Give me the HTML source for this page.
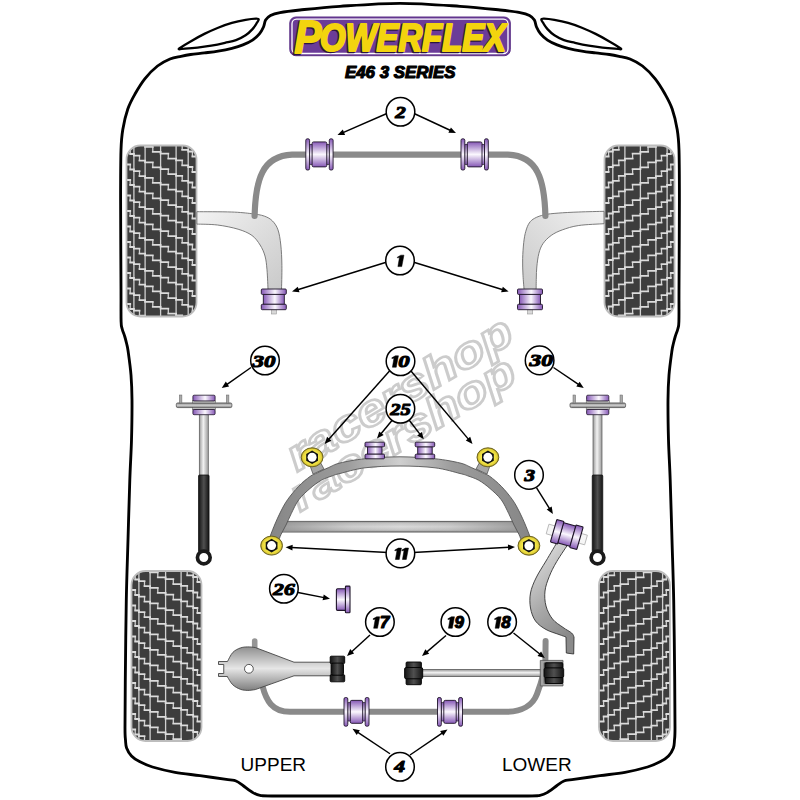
<!DOCTYPE html>
<html><head><meta charset="utf-8"><style>
html,body{margin:0;padding:0;background:#fff;width:800px;height:800px;overflow:hidden}
svg{display:block}
</style></head><body>
<svg width="800" height="800" viewBox="0 0 800 800">
<defs>
<linearGradient id="pv" x1="0" y1="0" x2="0" y2="1"><stop offset="0" stop-color="#8658b6"/><stop offset="0.5" stop-color="#fbf8fe"/><stop offset="1" stop-color="#8658b6"/></linearGradient>
<linearGradient id="ph" x1="0" y1="0" x2="1" y2="0"><stop offset="0" stop-color="#8658b6"/><stop offset="0.55" stop-color="#fbf8fe"/><stop offset="1" stop-color="#8658b6"/></linearGradient>
<linearGradient id="gArm" x1="0" y1="0" x2="0" y2="1"><stop offset="0" stop-color="#efefef"/><stop offset="1" stop-color="#c4c4c4"/></linearGradient>
<linearGradient id="gArmH" x1="0" y1="0" x2="1" y2="0"><stop offset="0" stop-color="#c8c8c8"/><stop offset="0.5" stop-color="#eeeeee"/><stop offset="1" stop-color="#c8c8c8"/></linearGradient>
<linearGradient id="gRod" x1="0" y1="0" x2="1" y2="0"><stop offset="0" stop-color="#9a9a9a"/><stop offset="0.45" stop-color="#f2f2f2"/><stop offset="1" stop-color="#9a9a9a"/></linearGradient>
<linearGradient id="gRodV" x1="0" y1="0" x2="0" y2="1"><stop offset="0" stop-color="#9a9a9a"/><stop offset="0.45" stop-color="#f2f2f2"/><stop offset="1" stop-color="#9a9a9a"/></linearGradient>
<linearGradient id="gBlk" x1="0" y1="0" x2="1" y2="0"><stop offset="0" stop-color="#141414"/><stop offset="0.5" stop-color="#505050"/><stop offset="1" stop-color="#141414"/></linearGradient>
<linearGradient id="gArmL" x1="0" y1="0" x2="1" y2="1"><stop offset="0" stop-color="#f2f2f2"/><stop offset="1" stop-color="#c9c9c9"/></linearGradient>
<linearGradient id="gPlate" x1="0" y1="0" x2="0" y2="1"><stop offset="0" stop-color="#7c7c7c"/><stop offset="0.5" stop-color="#d0d0d0"/><stop offset="1" stop-color="#7c7c7c"/></linearGradient>
<linearGradient id="gSubR" x1="0" y1="0" x2="1" y2="0"><stop offset="0" stop-color="#868686"/><stop offset="0.3" stop-color="#9c9c9c"/><stop offset="0.5" stop-color="#cfcfcf"/><stop offset="0.7" stop-color="#9c9c9c"/><stop offset="1" stop-color="#868686"/></linearGradient>
<linearGradient id="gCross" x1="0" y1="0" x2="0" y2="1"><stop offset="0" stop-color="#9a9a9a"/><stop offset="0.2" stop-color="#c6c6c6"/><stop offset="0.5" stop-color="#dadada"/><stop offset="0.8" stop-color="#c6c6c6"/><stop offset="1" stop-color="#9a9a9a"/></linearGradient>
<linearGradient id="gA3" x1="0" y1="0" x2="0.35" y2="1"><stop offset="0" stop-color="#f0f0f0"/><stop offset="0.3" stop-color="#cacaca"/><stop offset="0.65" stop-color="#a6a6a6"/><stop offset="1" stop-color="#8a8a8a"/></linearGradient>
<linearGradient id="gA17" gradientUnits="userSpaceOnUse" x1="0" y1="646" x2="0" y2="691"><stop offset="0" stop-color="#8c8c8c"/><stop offset="0.5" stop-color="#e6e6e6"/><stop offset="1" stop-color="#7c7c7c"/></linearGradient>
<linearGradient id="gBlkV" x1="0" y1="0" x2="0" y2="1"><stop offset="0" stop-color="#111"/><stop offset="0.5" stop-color="#4a4a4a"/><stop offset="1" stop-color="#111"/></linearGradient>
<radialGradient id="gNut" cx="0.5" cy="0.5" r="0.5"><stop offset="0.6" stop-color="#f4e84a"/><stop offset="0.85" stop-color="#e6d43a"/><stop offset="1" stop-color="#a89820"/></radialGradient>
<linearGradient id="gArmR" x1="1" y1="0" x2="0" y2="1"><stop offset="0" stop-color="#f2f2f2"/><stop offset="1" stop-color="#c9c9c9"/></linearGradient>
<linearGradient id="gCrossH" x1="0" y1="0" x2="1" y2="0"><stop offset="0" stop-color="#8a8a8a" stop-opacity="0.75"/><stop offset="0.3" stop-color="#8a8a8a" stop-opacity="0.15"/><stop offset="0.5" stop-color="#8a8a8a" stop-opacity="0"/><stop offset="0.7" stop-color="#8a8a8a" stop-opacity="0.15"/><stop offset="1" stop-color="#8a8a8a" stop-opacity="0.75"/></linearGradient>
<linearGradient id="gSub" x1="0" y1="0" x2="0" y2="1"><stop offset="0" stop-color="#c0c0c0"/><stop offset="1" stop-color="#8e8e8e"/></linearGradient>
</defs>

<path d="M400.00 3.30C380.00 3.30 356.67 5.18 340.00 6.30C323.33 7.42 310.00 8.95 300.00 10.00C290.00 11.05 284.92 11.68 280.00 12.60C275.08 13.52 272.90 14.25 270.50 15.50C268.10 16.75 266.77 18.18 265.60 20.10C264.43 22.02 264.53 24.70 263.50 27.00C262.47 29.30 261.23 31.72 259.40 33.90C257.57 36.08 255.25 38.27 252.50 40.10C249.75 41.93 246.33 43.53 242.90 44.90C239.47 46.27 236.03 47.27 231.90 48.30C227.77 49.33 222.68 50.33 218.10 51.10C213.52 51.87 208.98 52.33 204.40 52.90C199.82 53.47 194.50 53.93 190.60 54.50C186.70 55.07 184.43 55.55 181.00 56.30C177.57 57.05 173.92 57.38 170.00 59.00C166.08 60.62 161.67 62.73 157.50 66.00C153.33 69.27 148.75 73.93 145.00 78.60C141.25 83.27 137.87 88.93 135.00 94.00C132.13 99.07 129.83 103.08 127.80 109.00C125.77 114.92 123.93 122.67 122.80 129.50C121.67 136.33 121.37 138.25 121.00 150.00C120.63 161.75 120.60 176.67 120.60 200.00C120.60 223.33 120.92 269.75 121.00 290.00C121.08 310.25 120.90 315.00 121.10 321.50C121.30 328.00 121.59 326.50 122.20 329.00C122.81 331.50 124.02 334.08 124.75 336.50C125.48 338.92 126.04 341.08 126.60 343.50C127.16 345.92 127.37 345.75 128.10 351.00C128.83 356.25 130.35 366.83 131.00 375.00C131.65 383.17 131.92 389.17 132.00 400.00C132.08 410.83 131.87 426.67 131.50 440.00C131.13 453.33 130.38 463.33 129.80 480.00C129.22 496.67 128.58 520.00 128.00 540.00C127.42 560.00 126.75 576.67 126.30 600.00C125.85 623.33 125.52 658.67 125.30 680.00C125.08 701.33 124.97 718.00 125.00 728.00C125.03 738.00 125.23 736.67 125.50 740.00C125.77 743.33 125.60 745.33 126.60 748.00C127.60 750.67 129.35 753.73 131.50 756.00C133.65 758.27 136.00 759.77 139.50 761.60C143.00 763.43 146.58 765.22 152.50 767.00C158.42 768.78 167.08 770.85 175.00 772.30C182.92 773.75 191.17 774.48 200.00 775.70C208.83 776.92 222.00 778.72 228.00 779.60C234.00 780.48 233.50 780.02 236.00 781.00C238.50 781.98 240.46 783.73 243.00 785.50C245.54 787.27 248.42 789.97 251.25 791.60C254.08 793.23 255.21 794.57 260.00 795.30C264.79 796.03 256.67 795.88 280.00 796.00C303.33 796.12 360.00 796.00 400.00 796.00C440.00 796.00 496.67 796.12 520.00 796.00C543.33 795.88 535.21 796.03 540.00 795.30C544.79 794.57 545.92 793.23 548.75 791.60C551.58 789.97 554.46 787.27 557.00 785.50C559.54 783.73 561.50 781.98 564.00 781.00C566.50 780.02 566.00 780.48 572.00 779.60C578.00 778.72 591.17 776.92 600.00 775.70C608.83 774.48 617.08 773.75 625.00 772.30C632.92 770.85 641.58 768.78 647.50 767.00C653.42 765.22 657.00 763.43 660.50 761.60C664.00 759.77 666.35 758.27 668.50 756.00C670.65 753.73 672.40 750.67 673.40 748.00C674.40 745.33 674.23 743.33 674.50 740.00C674.77 736.67 674.97 738.00 675.00 728.00C675.03 718.00 674.92 701.33 674.70 680.00C674.48 658.67 674.15 623.33 673.70 600.00C673.25 576.67 672.58 560.00 672.00 540.00C671.42 520.00 670.78 496.67 670.20 480.00C669.62 463.33 668.87 453.33 668.50 440.00C668.13 426.67 667.92 410.83 668.00 400.00C668.08 389.17 668.35 383.17 669.00 375.00C669.65 366.83 671.17 356.25 671.90 351.00C672.63 345.75 672.84 345.92 673.40 343.50C673.96 341.08 674.52 338.92 675.25 336.50C675.98 334.08 677.19 331.50 677.80 329.00C678.41 326.50 678.70 328.00 678.90 321.50C679.10 315.00 678.92 310.25 679.00 290.00C679.08 269.75 679.40 223.33 679.40 200.00C679.40 176.67 679.37 161.75 679.00 150.00C678.63 138.25 678.33 136.33 677.20 129.50C676.07 122.67 674.23 114.92 672.20 109.00C670.17 103.08 667.87 99.07 665.00 94.00C662.13 88.93 658.75 83.27 655.00 78.60C651.25 73.93 646.67 69.27 642.50 66.00C638.33 62.73 633.92 60.62 630.00 59.00C626.08 57.38 622.43 57.05 619.00 56.30C615.57 55.55 613.30 55.07 609.40 54.50C605.50 53.93 600.18 53.47 595.60 52.90C591.02 52.33 586.48 51.87 581.90 51.10C577.32 50.33 572.23 49.33 568.10 48.30C563.97 47.27 560.53 46.27 557.10 44.90C553.67 43.53 550.25 41.93 547.50 40.10C544.75 38.27 542.43 36.08 540.60 33.90C538.77 31.72 537.53 29.30 536.50 27.00C535.47 24.70 535.57 22.02 534.40 20.10C533.23 18.18 531.90 16.75 529.50 15.50C527.10 14.25 524.92 13.52 520.00 12.60C515.08 11.68 510.00 11.05 500.00 10.00C490.00 8.95 476.67 7.42 460.00 6.30C443.33 5.18 420.00 3.30 400.00 3.30Z" fill="none" stroke="#000" stroke-width="2.85"/>
<path d="M178.90 48.70C179.83 47.50 186.35 43.87 190.60 41.40C194.85 38.93 199.82 36.18 204.40 33.90C208.98 31.62 213.52 29.53 218.10 27.70C222.68 25.87 227.32 24.20 231.90 22.90C236.48 21.60 241.58 20.60 245.60 19.90C249.62 19.20 253.82 18.77 256.00 18.70C258.18 18.63 258.58 18.75 258.70 19.50C258.82 20.25 257.73 21.60 256.70 23.20C255.67 24.80 254.35 27.08 252.50 29.10C250.65 31.12 248.35 33.47 245.60 35.30C242.85 37.13 239.43 38.85 236.00 40.10C232.57 41.35 229.12 41.88 225.00 42.80C220.88 43.72 215.88 44.80 211.30 45.60C206.72 46.40 201.88 47.10 197.50 47.60C193.12 48.10 188.10 48.42 185.00 48.60C181.90 48.78 177.97 49.90 178.90 48.70Z" fill="none" stroke="#000" stroke-width="2.3" stroke-linejoin="round"/>
<path d="M621.10 48.70C620.17 47.50 613.65 43.87 609.40 41.40C605.15 38.93 600.18 36.18 595.60 33.90C591.02 31.62 586.48 29.53 581.90 27.70C577.32 25.87 572.68 24.20 568.10 22.90C563.52 21.60 558.42 20.60 554.40 19.90C550.38 19.20 546.18 18.77 544.00 18.70C541.82 18.63 541.42 18.75 541.30 19.50C541.18 20.25 542.27 21.60 543.30 23.20C544.33 24.80 545.65 27.08 547.50 29.10C549.35 31.12 551.65 33.47 554.40 35.30C557.15 37.13 560.57 38.85 564.00 40.10C567.43 41.35 570.88 41.88 575.00 42.80C579.12 43.72 584.12 44.80 588.70 45.60C593.28 46.40 598.12 47.10 602.50 47.60C606.88 48.10 611.90 48.42 615.00 48.60C618.10 48.78 622.03 49.90 621.10 48.70Z" fill="none" stroke="#000" stroke-width="2.3" stroke-linejoin="round"/>
<rect x="289.8" y="17" width="220.5" height="38.7" rx="6" fill="#6b3c98" stroke="#5a2f85" stroke-width="1"/>
<rect x="292" y="19.2" width="216" height="34.3" rx="4.5" fill="none" stroke="#fff" stroke-width="1.3"/>
<text x="293.2" y="53.5" font-family="Liberation Sans" font-weight="bold" font-style="italic" font-size="47" fill="#2a1540" stroke="#2a1540" stroke-width="2.6" stroke-linejoin="round" textLength="27" lengthAdjust="spacingAndGlyphs">P</text>
<text x="318.7" y="51.5" font-family="Liberation Sans" font-weight="bold" font-style="italic" font-size="38" fill="#2a1540" stroke="#2a1540" stroke-width="2.6" stroke-linejoin="round" textLength="186" lengthAdjust="spacingAndGlyphs">OWERFLEX</text>
<text x="294.5" y="52.5" font-family="Liberation Sans" font-weight="bold" font-style="italic" font-size="47" fill="#f3d40e" stroke="#f3d40e" stroke-width="2.2" stroke-linejoin="round" textLength="27" lengthAdjust="spacingAndGlyphs">P</text>
<text x="320" y="50.5" font-family="Liberation Sans" font-weight="bold" font-style="italic" font-size="38" fill="#f3d40e" stroke="#f3d40e" stroke-width="2.2" stroke-linejoin="round" textLength="186" lengthAdjust="spacingAndGlyphs">OWERFLEX</text>
<text x="345" y="77.5" font-family="Liberation Sans" font-weight="bold" font-style="italic" font-size="16.5" fill="#000" stroke="#000" stroke-width="1.15" stroke-linejoin="round" textLength="110.5" lengthAdjust="spacingAndGlyphs">E46 3 SERIES</text>
<clipPath id="t1"><rect x="126.5" y="145.5" width="70" height="171" rx="14" ry="14"/></clipPath>
<rect x="126.5" y="145.5" width="70" height="171" rx="14" ry="14" fill="#3d3d3d"/>
<g clip-path="url(#t1)"><path d="M130.2 102.5V107.5M130.2 118.0V123.0M130.2 133.5V138.5M130.2 149.0V154.0M130.2 164.5V169.5M130.2 180.0V185.0M130.2 195.5V200.5M130.2 211.0V216.0M130.2 226.5V231.5M130.2 242.0V247.0M130.2 257.5V262.5M130.2 273.0V278.0M130.2 288.5V293.5M130.2 304.0V309.0M130.2 319.5V324.5M139.5 109.2V114.2M139.5 124.7V129.7M139.5 140.2V145.2M139.5 155.7V160.7M139.5 171.2V176.2M139.5 186.7V191.7M139.5 202.2V207.2M139.5 217.7V222.7M139.5 233.2V238.2M139.5 248.7V253.7M139.5 264.2V269.2M139.5 279.7V284.7M139.5 295.2V300.2M139.5 310.7V315.7M139.5 326.2V331.2M152.8 115.9V120.9M152.8 131.4V136.4M152.8 146.9V151.9M152.8 162.4V167.4M152.8 177.9V182.9M152.8 193.4V198.4M152.8 208.9V213.9M152.8 224.4V229.4M152.8 239.9V244.9M152.8 255.4V260.4M152.8 270.9V275.9M152.8 286.4V291.4M152.8 301.9V306.9M152.8 317.4V322.4M168.3 122.6V127.6M168.3 138.1V143.1M168.3 153.6V158.6M168.3 169.1V174.1M168.3 184.6V189.6M168.3 200.1V205.1M168.3 215.6V220.6M168.3 231.1V236.1M168.3 246.6V251.6M168.3 262.1V267.1M168.3 277.6V282.6M168.3 293.1V298.1M168.3 308.6V313.6M168.3 324.1V329.1M182.2 129.3V134.3M182.2 144.8V149.8M182.2 160.3V165.3M182.2 175.8V180.8M182.2 191.3V196.3M182.2 206.8V211.8M182.2 222.3V227.3M182.2 237.8V242.8M182.2 253.3V258.3M182.2 268.8V273.8M182.2 284.3V289.3M182.2 299.8V304.8M182.2 315.3V320.3M192.4 136.0V141.0M192.4 151.5V156.5M192.4 167.0V172.0M192.4 182.5V187.5M192.4 198.0V203.0M192.4 213.5V218.5M192.4 229.0V234.0M192.4 244.5V249.5M192.4 260.0V265.0M192.4 275.5V280.5M192.4 291.0V296.0M192.4 306.5V311.5M192.4 322.0V327.0M133.9 145.5V316.5M145.1 145.5V316.5M160.6 145.5V316.5M176.1 145.5V316.5M188.2 145.5V316.5" stroke="#d0d0d0" stroke-width="1.3" fill="none"/><path d="M126.5 102.5H130.2M130.2 107.5H133.9M126.5 118.0H130.2M130.2 123.0H133.9M126.5 133.5H130.2M130.2 138.5H133.9M126.5 149.0H130.2M130.2 154.0H133.9M126.5 164.5H130.2M130.2 169.5H133.9M126.5 180.0H130.2M130.2 185.0H133.9M126.5 195.5H130.2M130.2 200.5H133.9M126.5 211.0H130.2M130.2 216.0H133.9M126.5 226.5H130.2M130.2 231.5H133.9M126.5 242.0H130.2M130.2 247.0H133.9M126.5 257.5H130.2M130.2 262.5H133.9M126.5 273.0H130.2M130.2 278.0H133.9M126.5 288.5H130.2M130.2 293.5H133.9M126.5 304.0H130.2M130.2 309.0H133.9M126.5 319.5H130.2M130.2 324.5H133.9M133.9 109.2H139.5M139.5 114.2H145.1M133.9 124.7H139.5M139.5 129.7H145.1M133.9 140.2H139.5M139.5 145.2H145.1M133.9 155.7H139.5M139.5 160.7H145.1M133.9 171.2H139.5M139.5 176.2H145.1M133.9 186.7H139.5M139.5 191.7H145.1M133.9 202.2H139.5M139.5 207.2H145.1M133.9 217.7H139.5M139.5 222.7H145.1M133.9 233.2H139.5M139.5 238.2H145.1M133.9 248.7H139.5M139.5 253.7H145.1M133.9 264.2H139.5M139.5 269.2H145.1M133.9 279.7H139.5M139.5 284.7H145.1M133.9 295.2H139.5M139.5 300.2H145.1M133.9 310.7H139.5M139.5 315.7H145.1M133.9 326.2H139.5M139.5 331.2H145.1M145.1 115.9H152.8M152.8 120.9H160.6M145.1 131.4H152.8M152.8 136.4H160.6M145.1 146.9H152.8M152.8 151.9H160.6M145.1 162.4H152.8M152.8 167.4H160.6M145.1 177.9H152.8M152.8 182.9H160.6M145.1 193.4H152.8M152.8 198.4H160.6M145.1 208.9H152.8M152.8 213.9H160.6M145.1 224.4H152.8M152.8 229.4H160.6M145.1 239.9H152.8M152.8 244.9H160.6M145.1 255.4H152.8M152.8 260.4H160.6M145.1 270.9H152.8M152.8 275.9H160.6M145.1 286.4H152.8M152.8 291.4H160.6M145.1 301.9H152.8M152.8 306.9H160.6M145.1 317.4H152.8M152.8 322.4H160.6M160.6 122.6H168.3M168.3 127.6H176.1M160.6 138.1H168.3M168.3 143.1H176.1M160.6 153.6H168.3M168.3 158.6H176.1M160.6 169.1H168.3M168.3 174.1H176.1M160.6 184.6H168.3M168.3 189.6H176.1M160.6 200.1H168.3M168.3 205.1H176.1M160.6 215.6H168.3M168.3 220.6H176.1M160.6 231.1H168.3M168.3 236.1H176.1M160.6 246.6H168.3M168.3 251.6H176.1M160.6 262.1H168.3M168.3 267.1H176.1M160.6 277.6H168.3M168.3 282.6H176.1M160.6 293.1H168.3M168.3 298.1H176.1M160.6 308.6H168.3M168.3 313.6H176.1M160.6 324.1H168.3M168.3 329.1H176.1M176.1 129.3H182.2M182.2 134.3H188.2M176.1 144.8H182.2M182.2 149.8H188.2M176.1 160.3H182.2M182.2 165.3H188.2M176.1 175.8H182.2M182.2 180.8H188.2M176.1 191.3H182.2M182.2 196.3H188.2M176.1 206.8H182.2M182.2 211.8H188.2M176.1 222.3H182.2M182.2 227.3H188.2M176.1 237.8H182.2M182.2 242.8H188.2M176.1 253.3H182.2M182.2 258.3H188.2M176.1 268.8H182.2M182.2 273.8H188.2M176.1 284.3H182.2M182.2 289.3H188.2M176.1 299.8H182.2M182.2 304.8H188.2M176.1 315.3H182.2M182.2 320.3H188.2M188.2 136.0H192.4M192.4 141.0H196.5M188.2 151.5H192.4M192.4 156.5H196.5M188.2 167.0H192.4M192.4 172.0H196.5M188.2 182.5H192.4M192.4 187.5H196.5M188.2 198.0H192.4M192.4 203.0H196.5M188.2 213.5H192.4M192.4 218.5H196.5M188.2 229.0H192.4M192.4 234.0H196.5M188.2 244.5H192.4M192.4 249.5H196.5M188.2 260.0H192.4M192.4 265.0H196.5M188.2 275.5H192.4M192.4 280.5H196.5M188.2 291.0H192.4M192.4 296.0H196.5M188.2 306.5H192.4M192.4 311.5H196.5M188.2 322.0H192.4M192.4 327.0H196.5" stroke="#dcdcdc" stroke-width="1.8" fill="none" stroke-linecap="square"/></g>
<rect x="126.5" y="145.5" width="70" height="171" rx="14" ry="14" fill="none" stroke="#bdbdbd" stroke-width="1.8"/>
<clipPath id="t2"><rect x="604.5" y="145.5" width="70" height="171" rx="14" ry="14"/></clipPath>
<rect x="604.5" y="145.5" width="70" height="171" rx="14" ry="14" fill="#3d3d3d"/>
<g clip-path="url(#t2)"><g transform="translate(1279.0 0) scale(-1 1)"><path d="M608.2 102.5V107.5M608.2 118.0V123.0M608.2 133.5V138.5M608.2 149.0V154.0M608.2 164.5V169.5M608.2 180.0V185.0M608.2 195.5V200.5M608.2 211.0V216.0M608.2 226.5V231.5M608.2 242.0V247.0M608.2 257.5V262.5M608.2 273.0V278.0M608.2 288.5V293.5M608.2 304.0V309.0M608.2 319.5V324.5M617.5 109.2V114.2M617.5 124.7V129.7M617.5 140.2V145.2M617.5 155.7V160.7M617.5 171.2V176.2M617.5 186.7V191.7M617.5 202.2V207.2M617.5 217.7V222.7M617.5 233.2V238.2M617.5 248.7V253.7M617.5 264.2V269.2M617.5 279.7V284.7M617.5 295.2V300.2M617.5 310.7V315.7M617.5 326.2V331.2M630.9 115.9V120.9M630.9 131.4V136.4M630.9 146.9V151.9M630.9 162.4V167.4M630.9 177.9V182.9M630.9 193.4V198.4M630.9 208.9V213.9M630.9 224.4V229.4M630.9 239.9V244.9M630.9 255.4V260.4M630.9 270.9V275.9M630.9 286.4V291.4M630.9 301.9V306.9M630.9 317.4V322.4M646.4 122.6V127.6M646.4 138.1V143.1M646.4 153.6V158.6M646.4 169.1V174.1M646.4 184.6V189.6M646.4 200.1V205.1M646.4 215.6V220.6M646.4 231.1V236.1M646.4 246.6V251.6M646.4 262.1V267.1M646.4 277.6V282.6M646.4 293.1V298.1M646.4 308.6V313.6M646.4 324.1V329.1M660.2 129.3V134.3M660.2 144.8V149.8M660.2 160.3V165.3M660.2 175.8V180.8M660.2 191.3V196.3M660.2 206.8V211.8M660.2 222.3V227.3M660.2 237.8V242.8M660.2 253.3V258.3M660.2 268.8V273.8M660.2 284.3V289.3M660.2 299.8V304.8M660.2 315.3V320.3M670.4 136.0V141.0M670.4 151.5V156.5M670.4 167.0V172.0M670.4 182.5V187.5M670.4 198.0V203.0M670.4 213.5V218.5M670.4 229.0V234.0M670.4 244.5V249.5M670.4 260.0V265.0M670.4 275.5V280.5M670.4 291.0V296.0M670.4 306.5V311.5M670.4 322.0V327.0M611.9 145.5V316.5M623.1 145.5V316.5M638.6 145.5V316.5M654.1 145.5V316.5M666.2 145.5V316.5" stroke="#d0d0d0" stroke-width="1.3" fill="none"/><path d="M604.5 102.5H608.2M608.2 107.5H611.9M604.5 118.0H608.2M608.2 123.0H611.9M604.5 133.5H608.2M608.2 138.5H611.9M604.5 149.0H608.2M608.2 154.0H611.9M604.5 164.5H608.2M608.2 169.5H611.9M604.5 180.0H608.2M608.2 185.0H611.9M604.5 195.5H608.2M608.2 200.5H611.9M604.5 211.0H608.2M608.2 216.0H611.9M604.5 226.5H608.2M608.2 231.5H611.9M604.5 242.0H608.2M608.2 247.0H611.9M604.5 257.5H608.2M608.2 262.5H611.9M604.5 273.0H608.2M608.2 278.0H611.9M604.5 288.5H608.2M608.2 293.5H611.9M604.5 304.0H608.2M608.2 309.0H611.9M604.5 319.5H608.2M608.2 324.5H611.9M611.9 109.2H617.5M617.5 114.2H623.1M611.9 124.7H617.5M617.5 129.7H623.1M611.9 140.2H617.5M617.5 145.2H623.1M611.9 155.7H617.5M617.5 160.7H623.1M611.9 171.2H617.5M617.5 176.2H623.1M611.9 186.7H617.5M617.5 191.7H623.1M611.9 202.2H617.5M617.5 207.2H623.1M611.9 217.7H617.5M617.5 222.7H623.1M611.9 233.2H617.5M617.5 238.2H623.1M611.9 248.7H617.5M617.5 253.7H623.1M611.9 264.2H617.5M617.5 269.2H623.1M611.9 279.7H617.5M617.5 284.7H623.1M611.9 295.2H617.5M617.5 300.2H623.1M611.9 310.7H617.5M617.5 315.7H623.1M611.9 326.2H617.5M617.5 331.2H623.1M623.1 115.9H630.9M630.9 120.9H638.6M623.1 131.4H630.9M630.9 136.4H638.6M623.1 146.9H630.9M630.9 151.9H638.6M623.1 162.4H630.9M630.9 167.4H638.6M623.1 177.9H630.9M630.9 182.9H638.6M623.1 193.4H630.9M630.9 198.4H638.6M623.1 208.9H630.9M630.9 213.9H638.6M623.1 224.4H630.9M630.9 229.4H638.6M623.1 239.9H630.9M630.9 244.9H638.6M623.1 255.4H630.9M630.9 260.4H638.6M623.1 270.9H630.9M630.9 275.9H638.6M623.1 286.4H630.9M630.9 291.4H638.6M623.1 301.9H630.9M630.9 306.9H638.6M623.1 317.4H630.9M630.9 322.4H638.6M638.6 122.6H646.4M646.4 127.6H654.1M638.6 138.1H646.4M646.4 143.1H654.1M638.6 153.6H646.4M646.4 158.6H654.1M638.6 169.1H646.4M646.4 174.1H654.1M638.6 184.6H646.4M646.4 189.6H654.1M638.6 200.1H646.4M646.4 205.1H654.1M638.6 215.6H646.4M646.4 220.6H654.1M638.6 231.1H646.4M646.4 236.1H654.1M638.6 246.6H646.4M646.4 251.6H654.1M638.6 262.1H646.4M646.4 267.1H654.1M638.6 277.6H646.4M646.4 282.6H654.1M638.6 293.1H646.4M646.4 298.1H654.1M638.6 308.6H646.4M646.4 313.6H654.1M638.6 324.1H646.4M646.4 329.1H654.1M654.1 129.3H660.2M660.2 134.3H666.2M654.1 144.8H660.2M660.2 149.8H666.2M654.1 160.3H660.2M660.2 165.3H666.2M654.1 175.8H660.2M660.2 180.8H666.2M654.1 191.3H660.2M660.2 196.3H666.2M654.1 206.8H660.2M660.2 211.8H666.2M654.1 222.3H660.2M660.2 227.3H666.2M654.1 237.8H660.2M660.2 242.8H666.2M654.1 253.3H660.2M660.2 258.3H666.2M654.1 268.8H660.2M660.2 273.8H666.2M654.1 284.3H660.2M660.2 289.3H666.2M654.1 299.8H660.2M660.2 304.8H666.2M654.1 315.3H660.2M660.2 320.3H666.2M666.2 136.0H670.4M670.4 141.0H674.5M666.2 151.5H670.4M670.4 156.5H674.5M666.2 167.0H670.4M670.4 172.0H674.5M666.2 182.5H670.4M670.4 187.5H674.5M666.2 198.0H670.4M670.4 203.0H674.5M666.2 213.5H670.4M670.4 218.5H674.5M666.2 229.0H670.4M670.4 234.0H674.5M666.2 244.5H670.4M670.4 249.5H674.5M666.2 260.0H670.4M670.4 265.0H674.5M666.2 275.5H670.4M670.4 280.5H674.5M666.2 291.0H670.4M670.4 296.0H674.5M666.2 306.5H670.4M670.4 311.5H674.5M666.2 322.0H670.4M670.4 327.0H674.5" stroke="#dcdcdc" stroke-width="1.8" fill="none" stroke-linecap="square"/></g></g>
<rect x="604.5" y="145.5" width="70" height="171" rx="14" ry="14" fill="none" stroke="#bdbdbd" stroke-width="1.8"/>
<clipPath id="t3"><rect x="131.5" y="571" width="70" height="170" rx="14" ry="14"/></clipPath>
<rect x="131.5" y="571" width="70" height="170" rx="14" ry="14" fill="#3d3d3d"/>
<g clip-path="url(#t3)"><path d="M135.2 528.0V533.0M135.2 543.5V548.5M135.2 559.0V564.0M135.2 574.5V579.5M135.2 590.0V595.0M135.2 605.5V610.5M135.2 621.0V626.0M135.2 636.5V641.5M135.2 652.0V657.0M135.2 667.5V672.5M135.2 683.0V688.0M135.2 698.5V703.5M135.2 714.0V719.0M135.2 729.5V734.5M135.2 745.0V750.0M144.5 534.7V539.7M144.5 550.2V555.2M144.5 565.7V570.7M144.5 581.2V586.2M144.5 596.7V601.7M144.5 612.2V617.2M144.5 627.7V632.7M144.5 643.2V648.2M144.5 658.7V663.7M144.5 674.2V679.2M144.5 689.7V694.7M144.5 705.2V710.2M144.5 720.7V725.7M144.5 736.2V741.2M157.8 541.4V546.4M157.8 556.9V561.9M157.8 572.4V577.4M157.8 587.9V592.9M157.8 603.4V608.4M157.8 618.9V623.9M157.8 634.4V639.4M157.8 649.9V654.9M157.8 665.4V670.4M157.8 680.9V685.9M157.8 696.4V701.4M157.8 711.9V716.9M157.8 727.4V732.4M157.8 742.9V747.9M173.3 548.1V553.1M173.3 563.6V568.6M173.3 579.1V584.1M173.3 594.6V599.6M173.3 610.1V615.1M173.3 625.6V630.6M173.3 641.1V646.1M173.3 656.6V661.6M173.3 672.1V677.1M173.3 687.6V692.6M173.3 703.1V708.1M173.3 718.6V723.6M173.3 734.1V739.1M173.3 749.6V754.6M187.2 554.8V559.8M187.2 570.3V575.3M187.2 585.8V590.8M187.2 601.3V606.3M187.2 616.8V621.8M187.2 632.3V637.3M187.2 647.8V652.8M187.2 663.3V668.3M187.2 678.8V683.8M187.2 694.3V699.3M187.2 709.8V714.8M187.2 725.3V730.3M187.2 740.8V745.8M197.4 561.5V566.5M197.4 577.0V582.0M197.4 592.5V597.5M197.4 608.0V613.0M197.4 623.5V628.5M197.4 639.0V644.0M197.4 654.5V659.5M197.4 670.0V675.0M197.4 685.5V690.5M197.4 701.0V706.0M197.4 716.5V721.5M197.4 732.0V737.0M197.4 747.5V752.5M138.9 571V741M150.1 571V741M165.6 571V741M181.1 571V741M193.2 571V741" stroke="#d0d0d0" stroke-width="1.3" fill="none"/><path d="M131.5 528.0H135.2M135.2 533.0H138.9M131.5 543.5H135.2M135.2 548.5H138.9M131.5 559.0H135.2M135.2 564.0H138.9M131.5 574.5H135.2M135.2 579.5H138.9M131.5 590.0H135.2M135.2 595.0H138.9M131.5 605.5H135.2M135.2 610.5H138.9M131.5 621.0H135.2M135.2 626.0H138.9M131.5 636.5H135.2M135.2 641.5H138.9M131.5 652.0H135.2M135.2 657.0H138.9M131.5 667.5H135.2M135.2 672.5H138.9M131.5 683.0H135.2M135.2 688.0H138.9M131.5 698.5H135.2M135.2 703.5H138.9M131.5 714.0H135.2M135.2 719.0H138.9M131.5 729.5H135.2M135.2 734.5H138.9M131.5 745.0H135.2M135.2 750.0H138.9M138.9 534.7H144.5M144.5 539.7H150.1M138.9 550.2H144.5M144.5 555.2H150.1M138.9 565.7H144.5M144.5 570.7H150.1M138.9 581.2H144.5M144.5 586.2H150.1M138.9 596.7H144.5M144.5 601.7H150.1M138.9 612.2H144.5M144.5 617.2H150.1M138.9 627.7H144.5M144.5 632.7H150.1M138.9 643.2H144.5M144.5 648.2H150.1M138.9 658.7H144.5M144.5 663.7H150.1M138.9 674.2H144.5M144.5 679.2H150.1M138.9 689.7H144.5M144.5 694.7H150.1M138.9 705.2H144.5M144.5 710.2H150.1M138.9 720.7H144.5M144.5 725.7H150.1M138.9 736.2H144.5M144.5 741.2H150.1M150.1 541.4H157.8M157.8 546.4H165.6M150.1 556.9H157.8M157.8 561.9H165.6M150.1 572.4H157.8M157.8 577.4H165.6M150.1 587.9H157.8M157.8 592.9H165.6M150.1 603.4H157.8M157.8 608.4H165.6M150.1 618.9H157.8M157.8 623.9H165.6M150.1 634.4H157.8M157.8 639.4H165.6M150.1 649.9H157.8M157.8 654.9H165.6M150.1 665.4H157.8M157.8 670.4H165.6M150.1 680.9H157.8M157.8 685.9H165.6M150.1 696.4H157.8M157.8 701.4H165.6M150.1 711.9H157.8M157.8 716.9H165.6M150.1 727.4H157.8M157.8 732.4H165.6M150.1 742.9H157.8M157.8 747.9H165.6M165.6 548.1H173.3M173.3 553.1H181.1M165.6 563.6H173.3M173.3 568.6H181.1M165.6 579.1H173.3M173.3 584.1H181.1M165.6 594.6H173.3M173.3 599.6H181.1M165.6 610.1H173.3M173.3 615.1H181.1M165.6 625.6H173.3M173.3 630.6H181.1M165.6 641.1H173.3M173.3 646.1H181.1M165.6 656.6H173.3M173.3 661.6H181.1M165.6 672.1H173.3M173.3 677.1H181.1M165.6 687.6H173.3M173.3 692.6H181.1M165.6 703.1H173.3M173.3 708.1H181.1M165.6 718.6H173.3M173.3 723.6H181.1M165.6 734.1H173.3M173.3 739.1H181.1M165.6 749.6H173.3M173.3 754.6H181.1M181.1 554.8H187.2M187.2 559.8H193.2M181.1 570.3H187.2M187.2 575.3H193.2M181.1 585.8H187.2M187.2 590.8H193.2M181.1 601.3H187.2M187.2 606.3H193.2M181.1 616.8H187.2M187.2 621.8H193.2M181.1 632.3H187.2M187.2 637.3H193.2M181.1 647.8H187.2M187.2 652.8H193.2M181.1 663.3H187.2M187.2 668.3H193.2M181.1 678.8H187.2M187.2 683.8H193.2M181.1 694.3H187.2M187.2 699.3H193.2M181.1 709.8H187.2M187.2 714.8H193.2M181.1 725.3H187.2M187.2 730.3H193.2M181.1 740.8H187.2M187.2 745.8H193.2M193.2 561.5H197.4M197.4 566.5H201.5M193.2 577.0H197.4M197.4 582.0H201.5M193.2 592.5H197.4M197.4 597.5H201.5M193.2 608.0H197.4M197.4 613.0H201.5M193.2 623.5H197.4M197.4 628.5H201.5M193.2 639.0H197.4M197.4 644.0H201.5M193.2 654.5H197.4M197.4 659.5H201.5M193.2 670.0H197.4M197.4 675.0H201.5M193.2 685.5H197.4M197.4 690.5H201.5M193.2 701.0H197.4M197.4 706.0H201.5M193.2 716.5H197.4M197.4 721.5H201.5M193.2 732.0H197.4M197.4 737.0H201.5M193.2 747.5H197.4M197.4 752.5H201.5" stroke="#dcdcdc" stroke-width="1.8" fill="none" stroke-linecap="square"/></g>
<rect x="131.5" y="571" width="70" height="170" rx="14" ry="14" fill="none" stroke="#bdbdbd" stroke-width="1.8"/>
<clipPath id="t4"><rect x="599" y="571" width="71" height="170" rx="14" ry="14"/></clipPath>
<rect x="599" y="571" width="71" height="170" rx="14" ry="14" fill="#3d3d3d"/>
<g clip-path="url(#t4)"><g transform="translate(1269.0 0) scale(-1 1)"><path d="M602.7 528.0V533.0M602.7 543.5V548.5M602.7 559.0V564.0M602.7 574.5V579.5M602.7 590.0V595.0M602.7 605.5V610.5M602.7 621.0V626.0M602.7 636.5V641.5M602.7 652.0V657.0M602.7 667.5V672.5M602.7 683.0V688.0M602.7 698.5V703.5M602.7 714.0V719.0M602.7 729.5V734.5M602.7 745.0V750.0M612.0 534.7V539.7M612.0 550.2V555.2M612.0 565.7V570.7M612.0 581.2V586.2M612.0 596.7V601.7M612.0 612.2V617.2M612.0 627.7V632.7M612.0 643.2V648.2M612.0 658.7V663.7M612.0 674.2V679.2M612.0 689.7V694.7M612.0 705.2V710.2M612.0 720.7V725.7M612.0 736.2V741.2M625.4 541.4V546.4M625.4 556.9V561.9M625.4 572.4V577.4M625.4 587.9V592.9M625.4 603.4V608.4M625.4 618.9V623.9M625.4 634.4V639.4M625.4 649.9V654.9M625.4 665.4V670.4M625.4 680.9V685.9M625.4 696.4V701.4M625.4 711.9V716.9M625.4 727.4V732.4M625.4 742.9V747.9M640.9 548.1V553.1M640.9 563.6V568.6M640.9 579.1V584.1M640.9 594.6V599.6M640.9 610.1V615.1M640.9 625.6V630.6M640.9 641.1V646.1M640.9 656.6V661.6M640.9 672.1V677.1M640.9 687.6V692.6M640.9 703.1V708.1M640.9 718.6V723.6M640.9 734.1V739.1M640.9 749.6V754.6M654.7 554.8V559.8M654.7 570.3V575.3M654.7 585.8V590.8M654.7 601.3V606.3M654.7 616.8V621.8M654.7 632.3V637.3M654.7 647.8V652.8M654.7 663.3V668.3M654.7 678.8V683.8M654.7 694.3V699.3M654.7 709.8V714.8M654.7 725.3V730.3M654.7 740.8V745.8M665.4 561.5V566.5M665.4 577.0V582.0M665.4 592.5V597.5M665.4 608.0V613.0M665.4 623.5V628.5M665.4 639.0V644.0M665.4 654.5V659.5M665.4 670.0V675.0M665.4 685.5V690.5M665.4 701.0V706.0M665.4 716.5V721.5M665.4 732.0V737.0M665.4 747.5V752.5M606.4 571V741M617.6 571V741M633.1 571V741M648.6 571V741M660.8 571V741" stroke="#d0d0d0" stroke-width="1.3" fill="none"/><path d="M599.0 528.0H602.7M602.7 533.0H606.4M599.0 543.5H602.7M602.7 548.5H606.4M599.0 559.0H602.7M602.7 564.0H606.4M599.0 574.5H602.7M602.7 579.5H606.4M599.0 590.0H602.7M602.7 595.0H606.4M599.0 605.5H602.7M602.7 610.5H606.4M599.0 621.0H602.7M602.7 626.0H606.4M599.0 636.5H602.7M602.7 641.5H606.4M599.0 652.0H602.7M602.7 657.0H606.4M599.0 667.5H602.7M602.7 672.5H606.4M599.0 683.0H602.7M602.7 688.0H606.4M599.0 698.5H602.7M602.7 703.5H606.4M599.0 714.0H602.7M602.7 719.0H606.4M599.0 729.5H602.7M602.7 734.5H606.4M599.0 745.0H602.7M602.7 750.0H606.4M606.4 534.7H612.0M612.0 539.7H617.6M606.4 550.2H612.0M612.0 555.2H617.6M606.4 565.7H612.0M612.0 570.7H617.6M606.4 581.2H612.0M612.0 586.2H617.6M606.4 596.7H612.0M612.0 601.7H617.6M606.4 612.2H612.0M612.0 617.2H617.6M606.4 627.7H612.0M612.0 632.7H617.6M606.4 643.2H612.0M612.0 648.2H617.6M606.4 658.7H612.0M612.0 663.7H617.6M606.4 674.2H612.0M612.0 679.2H617.6M606.4 689.7H612.0M612.0 694.7H617.6M606.4 705.2H612.0M612.0 710.2H617.6M606.4 720.7H612.0M612.0 725.7H617.6M606.4 736.2H612.0M612.0 741.2H617.6M617.6 541.4H625.4M625.4 546.4H633.1M617.6 556.9H625.4M625.4 561.9H633.1M617.6 572.4H625.4M625.4 577.4H633.1M617.6 587.9H625.4M625.4 592.9H633.1M617.6 603.4H625.4M625.4 608.4H633.1M617.6 618.9H625.4M625.4 623.9H633.1M617.6 634.4H625.4M625.4 639.4H633.1M617.6 649.9H625.4M625.4 654.9H633.1M617.6 665.4H625.4M625.4 670.4H633.1M617.6 680.9H625.4M625.4 685.9H633.1M617.6 696.4H625.4M625.4 701.4H633.1M617.6 711.9H625.4M625.4 716.9H633.1M617.6 727.4H625.4M625.4 732.4H633.1M617.6 742.9H625.4M625.4 747.9H633.1M633.1 548.1H640.9M640.9 553.1H648.6M633.1 563.6H640.9M640.9 568.6H648.6M633.1 579.1H640.9M640.9 584.1H648.6M633.1 594.6H640.9M640.9 599.6H648.6M633.1 610.1H640.9M640.9 615.1H648.6M633.1 625.6H640.9M640.9 630.6H648.6M633.1 641.1H640.9M640.9 646.1H648.6M633.1 656.6H640.9M640.9 661.6H648.6M633.1 672.1H640.9M640.9 677.1H648.6M633.1 687.6H640.9M640.9 692.6H648.6M633.1 703.1H640.9M640.9 708.1H648.6M633.1 718.6H640.9M640.9 723.6H648.6M633.1 734.1H640.9M640.9 739.1H648.6M633.1 749.6H640.9M640.9 754.6H648.6M648.6 554.8H654.7M654.7 559.8H660.8M648.6 570.3H654.7M654.7 575.3H660.8M648.6 585.8H654.7M654.7 590.8H660.8M648.6 601.3H654.7M654.7 606.3H660.8M648.6 616.8H654.7M654.7 621.8H660.8M648.6 632.3H654.7M654.7 637.3H660.8M648.6 647.8H654.7M654.7 652.8H660.8M648.6 663.3H654.7M654.7 668.3H660.8M648.6 678.8H654.7M654.7 683.8H660.8M648.6 694.3H654.7M654.7 699.3H660.8M648.6 709.8H654.7M654.7 714.8H660.8M648.6 725.3H654.7M654.7 730.3H660.8M648.6 740.8H654.7M654.7 745.8H660.8M660.8 561.5H665.4M665.4 566.5H670.0M660.8 577.0H665.4M665.4 582.0H670.0M660.8 592.5H665.4M665.4 597.5H670.0M660.8 608.0H665.4M665.4 613.0H670.0M660.8 623.5H665.4M665.4 628.5H670.0M660.8 639.0H665.4M665.4 644.0H670.0M660.8 654.5H665.4M665.4 659.5H670.0M660.8 670.0H665.4M665.4 675.0H670.0M660.8 685.5H665.4M665.4 690.5H670.0M660.8 701.0H665.4M665.4 706.0H670.0M660.8 716.5H665.4M665.4 721.5H670.0M660.8 732.0H665.4M665.4 737.0H670.0M660.8 747.5H665.4M665.4 752.5H670.0" stroke="#dcdcdc" stroke-width="1.8" fill="none" stroke-linecap="square"/></g></g>
<rect x="599" y="571" width="71" height="170" rx="14" ry="14" fill="none" stroke="#bdbdbd" stroke-width="1.8"/>
<text x="297" y="472" transform="rotate(-31 297 472)" font-family="Liberation Sans" font-weight="bold" font-style="italic" font-size="44" fill="none" stroke="#cccccc" stroke-width="2.6" textLength="256" lengthAdjust="spacingAndGlyphs">racershop</text>
<text x="300" y="512" transform="rotate(-31 300 512)" font-family="Liberation Sans" font-weight="bold" font-style="italic" font-size="44" fill="none" stroke="#cccccc" stroke-width="2.6" textLength="256" lengthAdjust="spacingAndGlyphs">racershop</text>
<path d="M196.90 211.70C202.63 211.75 222.13 211.67 231.30 212.00C240.47 212.33 246.40 213.02 251.90 213.70C257.40 214.38 260.87 214.88 264.30 216.10C267.73 217.32 270.22 218.70 272.50 221.00C274.78 223.30 276.62 225.90 278.00 229.90C279.38 233.90 280.15 239.05 280.80 245.00C281.45 250.95 281.78 257.93 281.90 265.60C282.02 273.27 281.57 286.77 281.50 291.00L268.10 291.00C267.92 287.47 267.52 275.63 267.00 269.80C266.48 263.97 266.15 260.13 265.00 256.00C263.85 251.87 262.28 248.43 260.10 245.00C257.92 241.57 255.57 238.03 251.90 235.40C248.23 232.77 243.83 230.93 238.10 229.20C232.37 227.47 224.37 225.85 217.50 225.00C210.63 224.15 200.33 224.25 196.90 224.10Z" fill="url(#gArmL)" stroke="#6e6e6e" stroke-width="0.9"/>
<path d="M604.00 211.30C599.79 211.42 586.40 211.70 578.75 212.00C571.10 212.30 563.83 212.64 558.10 213.10C552.38 213.56 548.29 213.90 544.40 214.75C540.51 215.60 537.27 216.82 534.75 218.20C532.23 219.57 530.74 220.82 529.25 223.00C527.76 225.18 526.72 228.03 525.80 231.25C524.88 234.47 524.27 237.72 523.75 242.30C523.23 246.88 522.77 253.25 522.65 258.75C522.52 264.25 522.74 269.93 523.00 275.30C523.26 280.68 524.00 288.38 524.20 291.00L536.10 291.00C536.13 288.83 536.18 282.00 536.30 278.00C536.42 274.00 536.37 271.12 536.80 267.00C537.23 262.88 537.87 257.20 538.90 253.30C539.93 249.40 540.94 246.58 543.00 243.60C545.06 240.62 548.04 237.68 551.25 235.40C554.46 233.12 557.67 231.55 562.25 229.90C566.83 228.25 571.79 226.53 578.75 225.50C585.71 224.47 599.79 224.00 604.00 223.70Z" fill="url(#gArmR)" stroke="#6e6e6e" stroke-width="0.9"/>
<path d="M254.6 216 C255.5 180, 262 156, 292 154.7 L508 154.7 C538 156, 544.5 180, 545.4 216" fill="none" stroke="#8a8a8a" stroke-width="6.2" stroke-linecap="round"/>
<rect x="311.1" y="145.04000000000002" width="16.700000000000003" height="18.72" fill="url(#pv)" stroke="#1e1428" stroke-width="0.8"/><rect x="309.6" y="144.416" width="3.0" height="19.968" fill="url(#pv)" stroke="#1e1428" stroke-width="0.6"/><rect x="326.3" y="144.416" width="3.0" height="19.968" fill="url(#pv)" stroke="#1e1428" stroke-width="0.6"/><rect x="312.1" y="141.92000000000002" width="14.700000000000003" height="24.96" rx="1.5" fill="url(#pv)" stroke="#1e1428" stroke-width="0.9"/><rect x="305.8" y="138.8" width="3.8" height="31.2" rx="1.5" fill="url(#pv)" stroke="#1e1428" stroke-width="0.9"/><rect x="329.3" y="138.8" width="3.8" height="31.2" rx="1.5" fill="url(#pv)" stroke="#1e1428" stroke-width="0.9"/>
<rect x="466.3" y="145.04000000000002" width="16.700000000000003" height="18.72" fill="url(#pv)" stroke="#1e1428" stroke-width="0.8"/><rect x="464.8" y="144.416" width="3.0" height="19.968" fill="url(#pv)" stroke="#1e1428" stroke-width="0.6"/><rect x="481.5" y="144.416" width="3.0" height="19.968" fill="url(#pv)" stroke="#1e1428" stroke-width="0.6"/><rect x="467.3" y="141.92000000000002" width="14.700000000000003" height="24.96" rx="1.5" fill="url(#pv)" stroke="#1e1428" stroke-width="0.9"/><rect x="461" y="138.8" width="3.8" height="31.2" rx="1.5" fill="url(#pv)" stroke="#1e1428" stroke-width="0.9"/><rect x="484.5" y="138.8" width="3.8" height="31.2" rx="1.5" fill="url(#pv)" stroke="#1e1428" stroke-width="0.9"/>
<rect x="271.3" y="309" width="5.2" height="5" fill="#d8d8d8" stroke="#999" stroke-width="0.6"/>
<rect x="527.5" y="309" width="5.2" height="5" fill="#d8d8d8" stroke="#999" stroke-width="0.6"/>
<rect x="263.3" y="294.4" width="21" height="9.899999999999999" fill="url(#ph)" stroke="#1e1428" stroke-width="0.9"/><rect x="261.3" y="289" width="25" height="5.4" rx="1" fill="url(#ph)" stroke="#1e1428" stroke-width="0.9"/><rect x="261.3" y="304.3" width="25" height="5.4" rx="1" fill="url(#ph)" stroke="#1e1428" stroke-width="0.9"/>
<rect x="519.5" y="294.4" width="21" height="9.899999999999999" fill="url(#ph)" stroke="#1e1428" stroke-width="0.9"/><rect x="517.5" y="289" width="25" height="5.4" rx="1" fill="url(#ph)" stroke="#1e1428" stroke-width="0.9"/><rect x="517.5" y="304.3" width="25" height="5.4" rx="1" fill="url(#ph)" stroke="#1e1428" stroke-width="0.9"/>
<line x1="388" y1="113" x2="343.0" y2="132.6" stroke="#000" stroke-width="1.45"/><path d="M337.5 135L342.8 129.5L345.1 134.9Z" fill="#000"/>
<line x1="413" y1="113" x2="450.6" y2="130.5" stroke="#000" stroke-width="1.45"/><path d="M456 133L448.4 132.7L450.9 127.4Z" fill="#000"/>
<circle cx="400.5" cy="111.75" r="14.3" fill="#fff" stroke="#000" stroke-width="1.5"/><text x="395.25" y="117.75" font-family="Liberation Serif" font-weight="bold" font-style="italic" font-size="17.50" stroke="#000" stroke-width="1.1" stroke-linejoin="round" textLength="10.5" lengthAdjust="spacingAndGlyphs">2</text>
<line x1="387" y1="262" x2="297.7" y2="289.7" stroke="#000" stroke-width="1.45"/><path d="M292 291.5L297.8 286.7L299.5 292.2Z" fill="#000"/>
<line x1="413" y1="262" x2="502.9" y2="289.7" stroke="#000" stroke-width="1.45"/><path d="M508.6 291.5L501.1 292.2L502.8 286.7Z" fill="#000"/>
<circle cx="400" cy="260.5" r="14.3" fill="#fff" stroke="#000" stroke-width="1.5"/><path d="M397.90 266.60L401.75 266.60L403.95 255.15L400.85 255.15L397.25 257.20L397.45 257.85L399.45 257.60Z" fill="#000" stroke="#000" stroke-width="0.5" stroke-linejoin="round"/>
<rect x="199.3" y="414" width="9" height="62" fill="url(#gRod)" stroke="#555" stroke-width="0.7"/><rect x="198.55" y="475" width="10.5" height="77" rx="1" fill="url(#gBlk)" stroke="#111" stroke-width="0.8"/><circle cx="203.8" cy="557.5" r="6.35" fill="#fff" stroke="#1a1a1a" stroke-width="3.7"/><rect x="176.3" y="402.9" width="55.6" height="4.7" rx="1.5" fill="url(#gPlate)" stroke="#444" stroke-width="0.7"/><rect x="179.3" y="395" width="2.6" height="8" fill="#aaa" stroke="#666" stroke-width="0.5"/><rect x="226.3" y="395" width="2.6" height="8" fill="#aaa" stroke="#666" stroke-width="0.5"/><rect x="192.5" y="400.7" width="23.2" height="2.3" fill="#bbb" stroke="#555" stroke-width="0.5"/><rect x="192.5" y="407.6" width="23.2" height="2.2" fill="#bbb" stroke="#555" stroke-width="0.5"/><rect x="192.9" y="395.2" width="22.2" height="5.7" rx="1.2" fill="url(#ph)" stroke="#1e1428" stroke-width="0.8"/><rect x="192.9" y="409.5" width="22.2" height="5.2" rx="1.2" fill="url(#ph)" stroke="#1e1428" stroke-width="0.8"/>
<rect x="593.0" y="414" width="9" height="62" fill="url(#gRod)" stroke="#555" stroke-width="0.7"/><rect x="592.25" y="475" width="10.5" height="77" rx="1" fill="url(#gBlk)" stroke="#111" stroke-width="0.8"/><circle cx="597.5" cy="557.5" r="6.35" fill="#fff" stroke="#1a1a1a" stroke-width="3.7"/><rect x="570.0" y="402.9" width="55.6" height="4.7" rx="1.5" fill="url(#gPlate)" stroke="#444" stroke-width="0.7"/><rect x="573.0" y="395" width="2.6" height="8" fill="#aaa" stroke="#666" stroke-width="0.5"/><rect x="620.0" y="395" width="2.6" height="8" fill="#aaa" stroke="#666" stroke-width="0.5"/><rect x="586.2" y="400.7" width="23.2" height="2.3" fill="#bbb" stroke="#555" stroke-width="0.5"/><rect x="586.2" y="407.6" width="23.2" height="2.2" fill="#bbb" stroke="#555" stroke-width="0.5"/><rect x="586.6" y="395.2" width="22.2" height="5.7" rx="1.2" fill="url(#ph)" stroke="#1e1428" stroke-width="0.8"/><rect x="586.6" y="409.5" width="22.2" height="5.2" rx="1.2" fill="url(#ph)" stroke="#1e1428" stroke-width="0.8"/>
<line x1="251" y1="367.5" x2="226.7" y2="384.6" stroke="#000" stroke-width="1.45"/><path d="M221.75 388L225.8 381.6L229.1 386.4Z" fill="#000"/>
<line x1="553.5" y1="367.5" x2="578.8" y2="384.6" stroke="#000" stroke-width="1.45"/><path d="M583.75 388L576.3 386.5L579.6 381.7Z" fill="#000"/>
<circle cx="265" cy="360.5" r="14.3" fill="#fff" stroke="#000" stroke-width="1.5"/><text x="252.50" y="366.50" font-family="Liberation Serif" font-weight="bold" font-style="italic" font-size="17.50" stroke="#000" stroke-width="1.1" stroke-linejoin="round" textLength="23" lengthAdjust="spacingAndGlyphs">30</text>
<circle cx="539.6" cy="360.4" r="14.3" fill="#fff" stroke="#000" stroke-width="1.5"/><text x="529.55" y="366.40" font-family="Liberation Serif" font-weight="bold" font-style="italic" font-size="17.50" stroke="#000" stroke-width="1.1" stroke-linejoin="round" textLength="23.5" lengthAdjust="spacingAndGlyphs">30</text>
<path d="M308 460 L318 458 L324 469 L313 474 Z" fill="#a6a6a6" stroke="#555" stroke-width="0.8"/>
<path d="M492 460 L482 458 L476 469 L487 474 Z" fill="#a6a6a6" stroke="#555" stroke-width="0.8"/>
<rect x="279" y="521.4" width="242" height="10.6" fill="url(#gCross)" stroke="#5a5a5a" stroke-width="1"/>
<rect x="279" y="521.4" width="242" height="10.6" fill="url(#gCrossH)"/>
<path d="M268.50 541.00C268.92 539.83 269.92 536.83 271.00 534.00C272.08 531.17 273.42 527.67 275.00 524.00C276.58 520.33 278.42 516.04 280.50 512.00C282.58 507.96 284.46 504.04 287.50 499.75C290.54 495.46 295.00 490.12 298.75 486.25C302.50 482.38 306.88 478.75 310.00 476.50C313.12 474.25 314.38 474.25 317.50 472.75C320.62 471.25 325.00 469.12 328.75 467.50C332.50 465.88 333.96 464.46 340.00 463.00C346.04 461.54 355.00 459.78 365.00 458.75C375.00 457.72 388.33 456.80 400.00 456.80C411.67 456.80 425.00 457.72 435.00 458.75C445.00 459.78 453.96 461.54 460.00 463.00C466.04 464.46 467.50 465.88 471.25 467.50C475.00 469.12 479.38 471.25 482.50 472.75C485.62 474.25 486.88 474.25 490.00 476.50C493.12 478.75 497.50 482.38 501.25 486.25C505.00 490.12 509.46 495.46 512.50 499.75C515.54 504.04 517.42 507.96 519.50 512.00C521.58 516.04 523.42 520.33 525.00 524.00C526.58 527.67 527.92 531.17 529.00 534.00C530.08 536.83 531.08 539.83 531.50 541.00L521.50 541.00C521.08 539.92 520.25 537.17 519.00 534.50C517.75 531.83 515.72 528.50 514.00 525.00C512.28 521.50 510.82 517.71 508.70 513.50C506.57 509.29 504.37 503.92 501.25 499.75C498.13 495.58 493.75 491.75 490.00 488.50C486.25 485.25 482.50 482.38 478.75 480.25C475.00 478.12 470.62 476.88 467.50 475.75C464.38 474.62 465.42 474.82 460.00 473.50C454.58 472.18 445.00 469.05 435.00 467.80C425.00 466.55 411.67 466.00 400.00 466.00C388.33 466.00 375.00 466.55 365.00 467.80C355.00 469.05 345.42 472.18 340.00 473.50C334.58 474.82 335.62 474.62 332.50 475.75C329.38 476.88 325.00 478.12 321.25 480.25C317.50 482.38 313.75 485.25 310.00 488.50C306.25 491.75 301.87 495.58 298.75 499.75C295.63 503.92 293.43 509.29 291.30 513.50C289.18 517.71 287.72 521.50 286.00 525.00C284.28 528.50 282.25 531.83 281.00 534.50C279.75 537.17 278.92 539.92 278.50 541.00Z" fill="url(#gSubR)" stroke="#555" stroke-width="0.9"/>
<rect x="367.5" y="446.8" width="14.5" height="7.400000000000002" fill="url(#ph)" stroke="#1e1428" stroke-width="0.9"/><rect x="365" y="442.2" width="19.5" height="4.6" rx="1" fill="url(#ph)" stroke="#1e1428" stroke-width="0.9"/><rect x="365" y="454.2" width="19.5" height="4.6" rx="1" fill="url(#ph)" stroke="#1e1428" stroke-width="0.9"/>
<rect x="417.7" y="446.8" width="14.5" height="7.400000000000002" fill="url(#ph)" stroke="#1e1428" stroke-width="0.9"/><rect x="415.2" y="442.2" width="19.5" height="4.6" rx="1" fill="url(#ph)" stroke="#1e1428" stroke-width="0.9"/><rect x="415.2" y="454.2" width="19.5" height="4.6" rx="1" fill="url(#ph)" stroke="#1e1428" stroke-width="0.9"/>
<ellipse cx="312.1" cy="457.3" rx="10.9" ry="9.5" fill="url(#gNut)" stroke="#6e6420" stroke-width="1"/><polygon points="317.99,460.70 312.10,464.10 306.21,460.70 306.21,453.90 312.10,450.50 317.99,453.90" fill="#111"/><circle cx="312.1" cy="457.3" r="4.5" fill="#fff"/>
<ellipse cx="487.9" cy="457.3" rx="10.9" ry="9.5" fill="url(#gNut)" stroke="#6e6420" stroke-width="1"/><polygon points="493.79,460.70 487.90,464.10 482.01,460.70 482.01,453.90 487.90,450.50 493.79,453.90" fill="#111"/><circle cx="487.9" cy="457.3" r="4.5" fill="#fff"/>
<ellipse cx="271.6" cy="545.6" rx="10.9" ry="9.5" fill="url(#gNut)" stroke="#6e6420" stroke-width="1"/><polygon points="277.49,549.00 271.60,552.40 265.71,549.00 265.71,542.20 271.60,538.80 277.49,542.20" fill="#111"/><circle cx="271.6" cy="545.6" r="4.5" fill="#fff"/>
<ellipse cx="528.9" cy="545.7" rx="10.9" ry="9.5" fill="url(#gNut)" stroke="#6e6420" stroke-width="1"/><polygon points="534.79,549.10 528.90,552.50 523.01,549.10 523.01,542.30 528.90,538.90 534.79,542.30" fill="#111"/><circle cx="528.9" cy="545.7" r="4.5" fill="#fff"/>
<line x1="389.5" y1="371" x2="328.6" y2="439.5" stroke="#000" stroke-width="1.45"/><path d="M324.6 444L327.1 436.8L331.4 440.7Z" fill="#000"/>
<line x1="411" y1="371" x2="468.6" y2="439.4" stroke="#000" stroke-width="1.45"/><path d="M472.5 444L465.8 440.5L470.2 436.8Z" fill="#000"/>
<circle cx="400.5" cy="361.25" r="14.3" fill="#fff" stroke="#000" stroke-width="1.5"/><path d="M392.40 367.25L396.25 367.25L398.45 355.80L395.35 355.80L391.75 357.85L391.95 358.50L393.95 358.25Z" fill="#000" stroke="#000" stroke-width="0.5" stroke-linejoin="round"/><text x="398.20" y="367.25" font-family="Liberation Serif" font-weight="bold" font-style="italic" font-size="17.50" stroke="#000" stroke-width="1.1" stroke-linejoin="round" textLength="11.4" lengthAdjust="spacingAndGlyphs">0</text>
<line x1="394" y1="418" x2="380.8" y2="434.0" stroke="#000" stroke-width="1.45"/><path d="M377 438.6L379.2 431.4L383.7 435.0Z" fill="#000"/>
<line x1="407.5" y1="418" x2="420.1" y2="434.4" stroke="#000" stroke-width="1.45"/><path d="M423.8 439.2L417.2 435.4L421.8 431.9Z" fill="#000"/>
<circle cx="400.4" cy="408.75" r="14.3" fill="#fff" stroke="#000" stroke-width="1.5"/><text x="390.25" y="414.75" font-family="Liberation Serif" font-weight="bold" font-style="italic" font-size="17.50" stroke="#000" stroke-width="1.1" stroke-linejoin="round" textLength="20.5" lengthAdjust="spacingAndGlyphs">25</text>
<line x1="388" y1="552.5" x2="291.6" y2="547.5" stroke="#000" stroke-width="1.45"/><path d="M285.6 547.2L292.7 544.7L292.4 550.5Z" fill="#000"/>
<line x1="413" y1="552.5" x2="509.0" y2="547.3" stroke="#000" stroke-width="1.45"/><path d="M515 547L508.2 550.3L507.9 544.5Z" fill="#000"/>
<circle cx="400.4" cy="553.4" r="14.3" fill="#fff" stroke="#000" stroke-width="1.5"/><path d="M395.40 559.50L399.25 559.50L401.45 548.05L398.35 548.05L394.75 550.10L394.95 550.75L396.95 550.50Z" fill="#000" stroke="#000" stroke-width="0.5" stroke-linejoin="round"/><path d="M402.45 559.50L406.30 559.50L408.50 548.05L405.40 548.05L401.80 550.10L402.00 550.75L404.00 550.50Z" fill="#000" stroke="#000" stroke-width="0.5" stroke-linejoin="round"/>
<path d="M558.50 540.00C556.42 543.50 549.75 554.67 546.00 561.00C542.25 567.33 538.58 572.67 536.00 578.00C533.42 583.33 531.42 588.00 530.50 593.00C529.58 598.00 529.67 603.33 530.50 608.00C531.33 612.67 532.92 617.42 535.50 621.00C538.08 624.58 542.08 627.25 546.00 629.50C549.92 631.75 555.67 633.25 559.00 634.50C562.33 635.75 564.83 636.58 566.00 637.00L566.3 653L573.7 654L574 637L574.00 637.00C573.60 636.33 573.43 634.60 571.60 633.00C569.77 631.40 566.18 629.73 563.00 627.40C559.82 625.07 555.33 622.57 552.50 619.00C549.67 615.43 547.25 610.67 546.00 606.00C544.75 601.33 544.45 595.93 545.00 591.00C545.55 586.07 547.35 581.30 549.30 576.40C551.25 571.50 553.33 567.33 556.70 561.60C560.07 555.87 567.37 545.27 569.50 542.00Z" fill="url(#gA3)" stroke="#333" stroke-width="0.9" stroke-linejoin="round"/>
<g transform="translate(566.8 534.5) rotate(16)"><rect x="-20" y="-5" width="7" height="10" fill="#f6f6f6" stroke="#b0b0b0" stroke-width="0.8"/><rect x="13" y="-5" width="7" height="10" fill="#f6f6f6" stroke="#b0b0b0" stroke-width="0.8"/><rect x="-6.5" y="-10.5" width="13" height="21" fill="url(#pv)" stroke="#1e1428" stroke-width="1.1"/><rect x="-13.7" y="-11.7" width="7.4" height="23.4" rx="0.8" fill="url(#pv)" stroke="#1e1428" stroke-width="1.1"/><rect x="6.3" y="-11.7" width="7.4" height="23.4" rx="0.8" fill="url(#pv)" stroke="#1e1428" stroke-width="1.1"/></g>
<line x1="536.6" y1="487.8" x2="549.7" y2="508.9" stroke="#000" stroke-width="1.45"/><path d="M552.9 514L546.7 509.6L551.7 506.5Z" fill="#000"/>
<circle cx="529" cy="474.9" r="14.3" fill="#fff" stroke="#000" stroke-width="1.5"/><text x="524.45" y="480.90" font-family="Liberation Serif" font-weight="bold" font-style="italic" font-size="17.50" stroke="#000" stroke-width="1.1" stroke-linejoin="round" textLength="10.5" lengthAdjust="spacingAndGlyphs">3</text>
<rect x="336.4" y="588.8" width="9.5" height="21.6" rx="1.2" fill="url(#pv)" stroke="#1e1428" stroke-width="1.1"/>
<rect x="345.4" y="586.1" width="4.6" height="26.7" rx="0.8" fill="url(#pv)" stroke="#1e1428" stroke-width="1.1"/>
<line x1="298" y1="592.5" x2="324.1" y2="597.6" stroke="#000" stroke-width="1.45"/><path d="M330 598.75L322.6 600.3L323.7 594.6Z" fill="#000"/>
<circle cx="283.9" cy="588.75" r="14.3" fill="#fff" stroke="#000" stroke-width="1.5"/><text x="273.05" y="594.50" font-family="Liberation Serif" font-weight="bold" font-style="italic" font-size="17.50" stroke="#000" stroke-width="1.1" stroke-linejoin="round" textLength="21.7" lengthAdjust="spacingAndGlyphs">26</text>
<path d="M262.5 686 C266 700, 272 711.8, 290 711.8 L506 711.8 C522 711.8, 533 705, 537 694 C540 686, 545 672, 545.4 660 L545.6 641" fill="none" stroke="#8a8a8a" stroke-width="6" stroke-linecap="round"/>
<rect x="349.3" y="703.24" width="14.399999999999999" height="17.22" fill="url(#pv)" stroke="#1e1428" stroke-width="0.8"/><rect x="347.8" y="702.666" width="3.0" height="18.368" fill="url(#pv)" stroke="#1e1428" stroke-width="0.6"/><rect x="362.2" y="702.666" width="3.0" height="18.368" fill="url(#pv)" stroke="#1e1428" stroke-width="0.6"/><rect x="350.3" y="700.37" width="12.399999999999999" height="22.96" rx="1.5" fill="url(#pv)" stroke="#1e1428" stroke-width="0.9"/><rect x="344" y="697.5" width="3.8" height="28.7" rx="1.5" fill="url(#pv)" stroke="#1e1428" stroke-width="0.9"/><rect x="365.2" y="697.5" width="3.8" height="28.7" rx="1.5" fill="url(#pv)" stroke="#1e1428" stroke-width="0.9"/>
<rect x="442.8" y="703.24" width="14.399999999999999" height="17.22" fill="url(#pv)" stroke="#1e1428" stroke-width="0.8"/><rect x="441.3" y="702.666" width="3.0" height="18.368" fill="url(#pv)" stroke="#1e1428" stroke-width="0.6"/><rect x="455.7" y="702.666" width="3.0" height="18.368" fill="url(#pv)" stroke="#1e1428" stroke-width="0.6"/><rect x="443.8" y="700.37" width="12.399999999999999" height="22.96" rx="1.5" fill="url(#pv)" stroke="#1e1428" stroke-width="0.9"/><rect x="437.5" y="697.5" width="3.8" height="28.7" rx="1.5" fill="url(#pv)" stroke="#1e1428" stroke-width="0.9"/><rect x="458.7" y="697.5" width="3.8" height="28.7" rx="1.5" fill="url(#pv)" stroke="#1e1428" stroke-width="0.9"/>
<line x1="390" y1="753.75" x2="357.5" y2="732.1" stroke="#000" stroke-width="1.45"/><path d="M352.5 728.75L359.9 730.2L356.7 735.0Z" fill="#000"/>
<line x1="410" y1="755" x2="442.5" y2="732.9" stroke="#000" stroke-width="1.45"/><path d="M447.5 729.5L443.3 735.8L440.1 731.0Z" fill="#000"/>
<circle cx="400" cy="766.75" r="14.3" fill="#fff" stroke="#000" stroke-width="1.5"/><text x="394.20" y="771.75" font-family="Liberation Serif" font-weight="bold" font-style="italic" font-size="17.50" stroke="#000" stroke-width="1.1" stroke-linejoin="round" textLength="10.8" lengthAdjust="spacingAndGlyphs">4</text>
<path d="M254.7 648 L254.7 641" stroke="#959595" stroke-width="5.6" stroke-linecap="round"/>
<path d="M227.5 661.5 L218.5 661.5 L218.5 664.5 L223.75 664.5 L223.75 673.5 L218.5 673.5 L218.5 676.5 L227.5 676.5 L227.50 677.00C228.38 678.29 230.62 682.71 232.75 684.75C234.88 686.79 237.75 688.31 240.25 689.25C242.75 690.19 245.25 690.34 247.75 690.40C250.25 690.46 254.00 689.73 255.25 689.60 L294 675.8 L331 675.8 L331 662.2 L294 662.2 L255.25 647.5 L255.25 647.50C254.00 647.40 250.25 646.82 247.75 646.90C245.25 646.98 242.75 647.07 240.25 648.00C237.75 648.93 234.88 650.25 232.75 652.50C230.62 654.75 228.38 660.00 227.50 661.50Z" fill="url(#gA17)" stroke="#444" stroke-width="0.9"/>
<circle cx="248.9" cy="668.8" r="4.4" fill="#fff" stroke="#444" stroke-width="0.9"/>
<rect x="330.2" y="656.2" width="14.5" height="7.399999999999977" rx="1" fill="url(#gBlk)" stroke="#000" stroke-width="0.9"/><rect x="330.2" y="674.7" width="14.5" height="7.099999999999909" rx="1" fill="url(#gBlk)" stroke="#000" stroke-width="0.9"/><rect x="331.4" y="663.1" width="12.100000000000023" height="12.100000000000023" rx="1.5" fill="url(#gBlk)" stroke="#000" stroke-width="0.9"/>
<line x1="370" y1="635" x2="351.4" y2="652.0" stroke="#000" stroke-width="1.45"/><path d="M347 656L350.2 649.1L354.1 653.4Z" fill="#000"/>
<circle cx="379.9" cy="622" r="14.3" fill="#fff" stroke="#000" stroke-width="1.5"/><path d="M373.65 628.25L377.50 628.25L379.70 616.80L376.60 616.80L373.00 618.85L373.20 619.50L375.20 619.25Z" fill="#000" stroke="#000" stroke-width="0.5" stroke-linejoin="round"/><text x="379.80" y="628.25" font-family="Liberation Sans" font-weight="bold" font-style="italic" font-size="16.30" stroke="#000" stroke-width="1.1" stroke-linejoin="round" textLength="9.6" lengthAdjust="spacingAndGlyphs">7</text>
<rect x="421" y="669.6" width="121" height="6.8" fill="url(#gRodV)" stroke="#555" stroke-width="0.8"/>
<rect x="406.1" y="662" width="15.299999999999955" height="6.0" rx="1" fill="url(#gBlk)" stroke="#000" stroke-width="0.9"/><rect x="406.1" y="678.3" width="15.299999999999955" height="6.400000000000091" rx="1" fill="url(#gBlk)" stroke="#000" stroke-width="0.9"/><rect x="404.6" y="667.5" width="18.099999999999966" height="11.299999999999955" rx="1.5" fill="url(#gBlk)" stroke="#000" stroke-width="0.9"/>
<path d="M540.3 660.4 H563 V662.8 H544.1 V683.5 H563 V685.9 H540.3 Z" fill="#a4a4a4" stroke="#555" stroke-width="0.8"/>
<rect x="545" y="662.8" width="18" height="5.600000000000023" rx="1" fill="url(#gBlk)" stroke="#000" stroke-width="0.9"/><rect x="545" y="677.1" width="18" height="6.399999999999977" rx="1" fill="url(#gBlk)" stroke="#000" stroke-width="0.9"/><rect x="544.1" y="667.9" width="19.600000000000023" height="9.700000000000045" rx="1.5" fill="url(#gBlk)" stroke="#000" stroke-width="0.9"/>
<line x1="446" y1="635.5" x2="426.6" y2="652.1" stroke="#000" stroke-width="1.45"/><path d="M422 656L425.4 649.2L429.2 653.7Z" fill="#000"/>
<line x1="513.5" y1="633" x2="540.1" y2="654.3" stroke="#000" stroke-width="1.45"/><path d="M544.8 658L537.5 655.9L541.1 651.4Z" fill="#000"/>
<circle cx="455.4" cy="622" r="14.3" fill="#fff" stroke="#000" stroke-width="1.5"/><path d="M448.45 628.25L452.30 628.25L454.50 616.80L451.40 616.80L447.80 618.85L448.00 619.50L450.00 619.25Z" fill="#000" stroke="#000" stroke-width="0.5" stroke-linejoin="round"/><text x="454.60" y="628.25" font-family="Liberation Sans" font-weight="bold" font-style="italic" font-size="16.30" stroke="#000" stroke-width="1.1" stroke-linejoin="round" textLength="9.4" lengthAdjust="spacingAndGlyphs">9</text>
<circle cx="502.1" cy="622" r="14.3" fill="#fff" stroke="#000" stroke-width="1.5"/><path d="M495.15 628.25L499.00 628.25L501.20 616.80L498.10 616.80L494.50 618.85L494.70 619.50L496.70 619.25Z" fill="#000" stroke="#000" stroke-width="0.5" stroke-linejoin="round"/><text x="501.30" y="628.25" font-family="Liberation Sans" font-weight="bold" font-style="italic" font-size="16.30" stroke="#000" stroke-width="1.1" stroke-linejoin="round" textLength="9.4" lengthAdjust="spacingAndGlyphs">8</text>
<text x="240.6" y="770.6" font-family="Liberation Sans" font-size="19" fill="#000">UPPER</text>
<text x="502" y="770.6" font-family="Liberation Sans" font-size="19" fill="#000">LOWER</text>
</svg></body></html>
